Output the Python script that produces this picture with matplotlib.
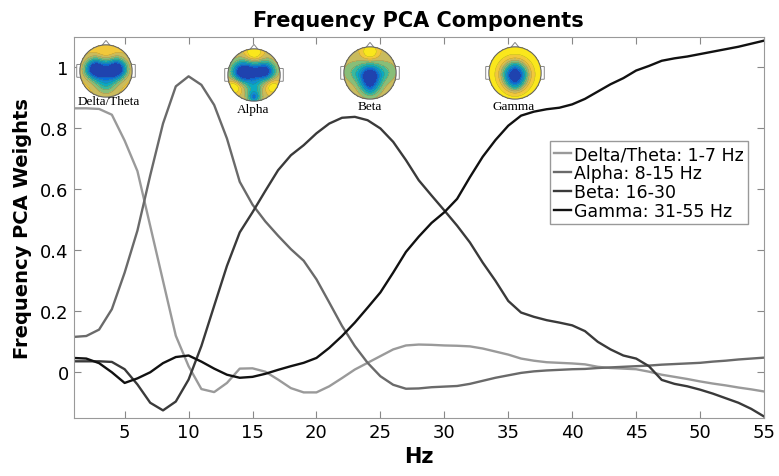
import numpy as np
import matplotlib
matplotlib.use("Agg")
from matplotlib import pyplot as plt
from matplotlib.colors import LinearSegmentedColormap
from matplotlib.patches import Circle, Polygon, FancyBboxPatch

# frequency axis (Hz) and PCA weights
hz = list(range(1, 56))

delta_theta = [0.866, 0.866, 0.864, 0.845, 0.76, 0.66, 0.48, 0.30, 0.12, 0.02,
               -0.055, -0.065, -0.035, 0.012, 0.013, 0.002, -0.024, -0.052, -0.066, -0.066,
               -0.046, -0.019, 0.009, 0.031, 0.053, 0.075, 0.088, 0.091, 0.09, 0.088,
               0.087, 0.085, 0.078, 0.068, 0.058, 0.045, 0.038, 0.033, 0.031, 0.029,
               0.026, 0.018, 0.014, 0.012, 0.01, 0.002, -0.008, -0.015, -0.022, -0.03,
               -0.037, -0.043, -0.05, -0.056, -0.063]

alpha = [0.116, 0.119, 0.14, 0.207, 0.327, 0.465, 0.646, 0.816, 0.938, 0.971,
         0.943, 0.877, 0.767, 0.625, 0.55, 0.495, 0.448, 0.404, 0.366, 0.305,
         0.229, 0.152, 0.086, 0.031, -0.013, -0.041, -0.054, -0.053, -0.049, -0.047,
         -0.045, -0.038, -0.028, -0.018, -0.01, -0.002, 0.003, 0.006, 0.008, 0.01,
         0.011, 0.014, 0.016, 0.018, 0.02, 0.022, 0.025, 0.027, 0.029, 0.031,
         0.035, 0.038, 0.042, 0.045, 0.048]

beta = [0.036, 0.036, 0.036, 0.034, 0.01, -0.04, -0.10, -0.125, -0.096, -0.024,
        0.086, 0.218, 0.349, 0.459, 0.525, 0.595, 0.663, 0.712, 0.745, 0.784,
        0.816, 0.835, 0.838, 0.827, 0.8, 0.756, 0.696, 0.63, 0.58, 0.531,
        0.481, 0.426, 0.36, 0.3, 0.234, 0.196, 0.182, 0.171, 0.163, 0.154,
        0.135, 0.1, 0.075, 0.055, 0.045, 0.02, -0.025, -0.038, -0.046, -0.057,
        -0.07, -0.085, -0.1, -0.12, -0.145]

gamma = [0.047, 0.045, 0.03, 0.0, -0.035, -0.02, 0.0, 0.03, 0.05, 0.055,
         0.035, 0.012, -0.008, -0.018, -0.015, -0.005, 0.008, 0.02, 0.031, 0.047,
         0.08, 0.119, 0.163, 0.212, 0.262, 0.327, 0.395, 0.445, 0.49, 0.525,
         0.569, 0.64, 0.707, 0.762, 0.809, 0.842, 0.855, 0.863, 0.868, 0.879,
         0.897, 0.921, 0.945, 0.965, 0.99, 1.005, 1.022, 1.03, 1.036, 1.044,
         1.052, 1.06, 1.068, 1.078, 1.088]

labels = ["Delta/Theta: 1-7 Hz", "Alpha: 8-15 Hz", "Beta: 16-30", "Gamma: 31-55 Hz"]
colors = ["#9a9a9a", "#6a6a6a", "#3a3a3a", "#111111"]

# scalp map look: (x, y, width, amplitude) blobs on a base level
head_names = ["Delta/Theta", "Alpha", "Beta", "Gamma"]
head_base = [0.82, 0.74, 0.74, 0.97]
head_blobs = [
    [(-0.42, 0.08, 0.26, -0.95), (0.42, 0.08, 0.26, -0.95), (0, -0.05, 0.3, -0.35),
     (0, -0.5, 0.3, -0.3), (0, 0.75, 0.22, 0.08)],
    [(-0.45, 0.12, 0.27, -0.85), (0.45, 0.15, 0.24, -0.75), (0, 0.1, 0.26, -0.5),
     (0, 0.85, 0.22, 0.3), (-0.75, -0.45, 0.2, 0.3), (0.72, -0.45, 0.2, 0.25),
     (0, -0.85, 0.17, -0.5), (0, -0.45, 0.22, -0.25)],
    [(0, -0.1, 0.3, -0.85), (0, -0.55, 0.24, -0.35), (0, 0.8, 0.22, 0.28),
     (-0.65, 0.05, 0.28, -0.15), (0.65, 0.05, 0.28, -0.15)],
    [(0, -0.05, 0.34, -1.05), (0, -0.45, 0.24, -0.2)],
]
# pixel centres of the scalp maps and their captions
head_px = [(106, 72), (254, 76), (370, 74), (515, 74)]
caption_px = [(109, 102), (253, 110), (370, 107), (514, 107)]

W, H = 779, 477
fig = plt.figure(figsize=(W / 100, H / 100), dpi=100)
ax = fig.add_axes([73.5 / W, 1 - 419 / H, (764 - 73.5) / W, (419 - 38) / H])

for series, lab, c in zip([delta_theta, alpha, beta, gamma], labels, colors):
    ax.plot(hz, series, color=c, lw=1.7, label=lab)

ax.set_xlim(1, 55)
ax.set_ylim(-0.15, 1.1)
ax.set_xticks(range(5, 56, 5))
ax.set_yticks([0, 0.2, 0.4, 0.6, 0.8, 1])
ax.set_yticklabels(["0", "0.2", "0.4", "0.6", "0.8", "1"])
ax.tick_params(direction="in", top=True, right=True, labelsize=13, color="#888888", length=5)
for s in ax.spines.values():
    s.set_color("#999999")

ax.set_title("Frequency PCA Components", fontsize=15, fontweight="bold", pad=8)
ax.set_xlabel("Hz", fontsize=15, fontweight="bold", labelpad=4)
ax.set_ylabel("Frequency PCA Weights", fontsize=14, fontweight="bold", labelpad=6)

leg = ax.legend(loc="upper right", bbox_to_anchor=(0.977, 0.727), fontsize=12.5,
                handlelength=1.0, handletextpad=0.15, borderpad=0.25, labelspacing=0.05,
                fancybox=False, framealpha=1, borderaxespad=0)
leg.get_frame().set_edgecolor("#999999")
leg.get_frame().set_linewidth(1.0)

parula = LinearSegmentedColormap.from_list(
    "parula_like", ["#352a87", "#0363e1", "#1485d4", "#06a7c6", "#38b99e",
                    "#92bf73", "#d9ba56", "#fcce2e", "#f9fb0e"])

g = np.linspace(-1, 1, 150)
gx, gy = np.meshgrid(g, g)
inside = gx ** 2 + gy ** 2 <= 1.0

r_px = 34
for (cx, cy), base, blobs in zip(head_px, head_base, head_blobs):
    hax = fig.add_axes([(cx - r_px) / W, 1 - (cy + r_px) / H, 2 * r_px / W, 2 * r_px / H])
    field = np.full_like(gx, base)
    for bx, by, bw, amp in blobs:
        field += amp * np.exp(-((gx - bx) ** 2 + (gy - by) ** 2) / (2 * bw ** 2))
    field = np.clip(field, 0, 1)
    field = np.ma.masked_where(~inside, field)
    levels = np.linspace(0, 1, 10)
    hax.contourf(gx, gy, field, levels=levels, cmap=parula, vmin=0, vmax=1)
    hax.contour(gx, gy, field, levels=levels[1:-1], colors="#444444", linewidths=0.25, alpha=0.5)
    # nose and ears
    hax.add_patch(Polygon([(-0.15, 0.985), (0, 1.17), (0.15, 0.985)], closed=True,
                          facecolor="white", edgecolor="#888888", lw=0.7, zorder=0))
    for side in (-1, 1):
        hax.add_patch(FancyBboxPatch((side * 1.04 - 0.06, -0.22), 0.12, 0.45,
                                     boxstyle="round,pad=0.02", facecolor="white",
                                     edgecolor="#888888", lw=0.7, zorder=0))
    hax.add_patch(Circle((0, 0), 1.0, fill=False, edgecolor="#666666", lw=0.8))
    hax.set_xlim(-1.3, 1.3)
    hax.set_ylim(-1.3, 1.3)
    hax.set_aspect("equal")
    hax.axis("off")

for (tx, ty), name in zip(caption_px, head_names):
    fig.text(tx / W, 1 - ty / H, name, ha="center", va="center", fontsize=9.5,
             family=["Liberation Serif", "DejaVu Serif"])

fig.savefig("out.png", dpi=100)
